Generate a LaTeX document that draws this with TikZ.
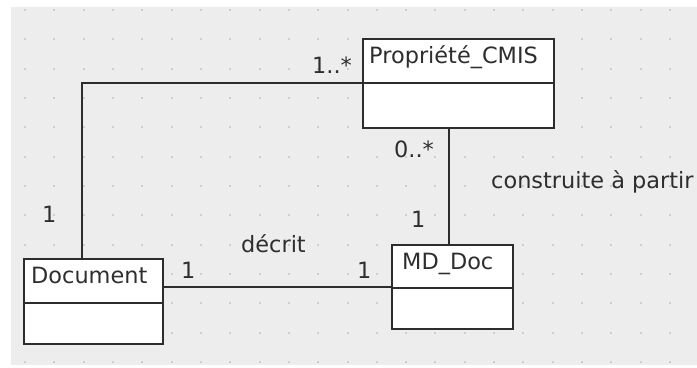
\documentclass[tikz,border=0pt]{standalone}
\usepackage{fontspec}
\setmainfont{DejaVu Sans}
\definecolor{bggrey}{RGB}{237,237,237}
\definecolor{dotgrey}{RGB}{205,205,205}
\definecolor{linegrey}{RGB}{45,45,45}
\tikzset{
  classbox/.style={draw=linegrey, line width=1.5bp, fill=white, inner sep=0pt, anchor=north west},
  divider/.style={draw=linegrey, line width=1.5bp},
  assoc/.style={draw=linegrey, line width=1.2bp},
  lbl/.style={inner sep=0pt, anchor=base west, text=black!82, font=\fontsize{22.5}{26}\selectfont},
}
\begin{document}
\begin{tikzpicture}[x=1bp,y=-1bp]
\useasboundingbox (0,0) rectangle (697,367);
\begin{scope}
\clip (0,0) rectangle (697,367);
\fill[bggrey] (11,7) rectangle (697,365);
\foreach \i in {0,...,23}{
  \foreach \j in {0,...,12}{
    \fill[dotgrey] ({25+29.32*\i-1},{10+29.33*\j-1}) rectangle ++(2,2);
  }
}
% classes
\node[classbox, minimum width=191bp, minimum height=89bp] (prop) at (362,38) {};
\node[classbox, minimum width=139bp, minimum height=85bp] (doc) at (23,258) {};
\node[classbox, minimum width=121bp, minimum height=84bp] (mdoc) at (391,244) {};
\draw[divider] ([yshift=-45bp]prop.north west) -- ([yshift=-45bp]prop.north east);
\draw[divider] ([yshift=-45bp]doc.north west) -- ([yshift=-45bp]doc.north east);
\draw[divider] ([yshift=-44bp]mdoc.north west) -- ([yshift=-44bp]mdoc.north east);
\node[lbl] (propname) at (369,63) {Propriété\_CMIS};
\node[lbl] (docname) at (31,283) {Document};
\node[lbl] (mdocname) at (402,269) {MD\_Doc};
% connectors
\coordinate (c1) at ([xshift=59bp]doc.north west);
\draw[assoc] (c1) |- ([yshift=-45bp]prop.north west);
\coordinate (c2) at ([xshift=87bp]prop.south west);
\draw[assoc] (c2) -- (c2 |- mdoc.north);
\coordinate (c3) at ([yshift=-29bp]doc.north east);
\draw[assoc] (c3) -- (c3 -| mdoc.west);
% labels
\node[lbl] (m1) at (312,73) {1..*};
\node[lbl] (m2) at (42,222) {1};
\node[lbl] (m3) at (394,157) {0..*};
\node[lbl] (m4) at (411,227) {1};
\node[lbl] (m5) at (181,278) {1};
\node[lbl] (m6) at (357,278) {1};
\node[lbl] (n1) at (241,252) {décrit};
\node[lbl] (n2) at (491,188) {construite à partir};
\end{scope}
\end{tikzpicture}
\end{document}
